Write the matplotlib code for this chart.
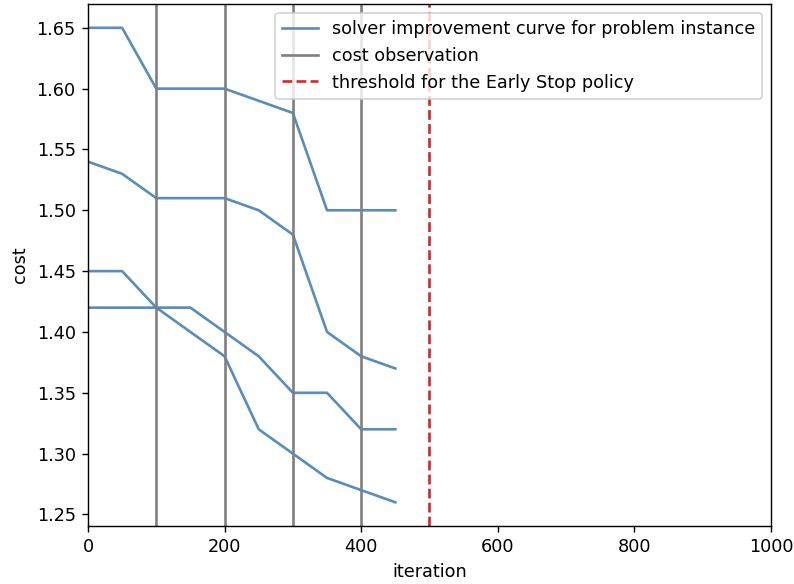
import matplotlib
matplotlib.use("Agg")
import matplotlib.pyplot as plt

# iteracoes onde o custo foi registrado
iteracoes = [0, 50, 100, 150, 200, 250, 300, 350, 400, 450]

# curvas de melhoria do solver (uma por instancia)
curva_1 = [1.65, 1.65, 1.60, 1.60, 1.60, 1.59, 1.58, 1.50, 1.50, 1.50]
curva_2 = [1.54, 1.53, 1.51, 1.51, 1.51, 1.50, 1.48, 1.40, 1.38, 1.37]
curva_3 = [1.45, 1.45, 1.42, 1.40, 1.38, 1.32, 1.30, 1.28, 1.27, 1.26]
curva_4 = [1.42, 1.42, 1.42, 1.42, 1.40, 1.38, 1.35, 1.35, 1.32, 1.32]
curvas = [curva_1, curva_2, curva_3, curva_4]

observacoes = [100, 200, 300, 400]
limite = 500

dpi = 127
fig = plt.figure(figsize=(794 / dpi, 584 / dpi), dpi=dpi)
ax = fig.add_subplot(111)
fig.subplots_adjust(left=0.1108, right=0.971, top=0.993, bottom=0.0993)

for i, c in enumerate(curvas):
    ax.plot(iteracoes, c, color='steelblue', alpha=0.9,
            label='solver improvement curve for problem instance' if i == 0 else None)

for i, x in enumerate(observacoes):
    ax.axvline(x, color='gray', label='cost observation' if i == 0 else None)

ax.axvline(limite, color='tab:red', linestyle='--', label='threshold for the Early Stop policy')

ax.set_xlim(0, 1000)
ax.set_xlabel('iteration')
ax.set_ylabel('cost')
ax.legend(loc='upper right')

fig.savefig('out.png', dpi=dpi)
